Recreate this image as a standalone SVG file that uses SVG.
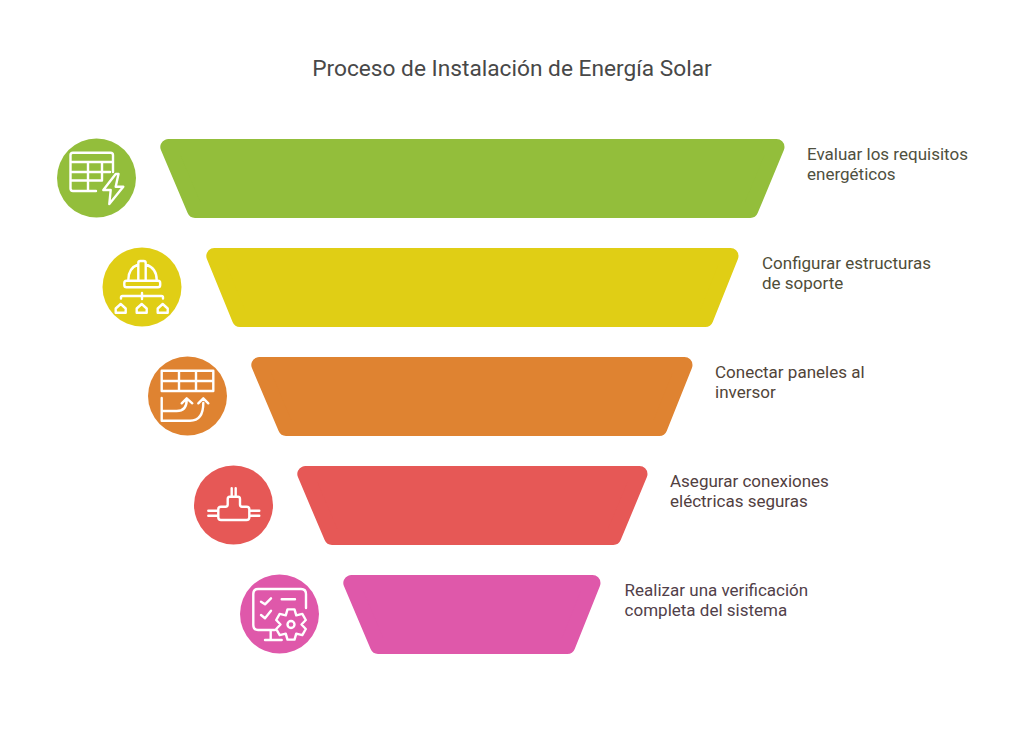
<svg xmlns="http://www.w3.org/2000/svg" width="1024" height="738" viewBox="0 0 1024 738">
<style>
text{font-family:Roboto,"Liberation Sans",sans-serif;font-size:17px}
.t{font-size:22.7px;fill:#484848}
.i{fill:none;stroke:#fff;stroke-width:2.4;stroke-linecap:round;stroke-linejoin:round}
.s{stroke-linejoin:round;stroke-width:16}
</style>
<rect width="1024" height="738" fill="#fff"/>
<text class="t" x="512" y="76" text-anchor="middle">Proceso de Instalación de Energía Solar</text>
<g id="n1">
<path class="s" fill="#93BE3B" stroke="#93BE3B" d="M168.300 147H776.500L750.300 210H195Z"/>
<circle cx="96.500" cy="178" r="39.500" fill="#93BE3B"/>
<path class="i" d="M96 191H73Q70.500 191 70.500 188.500V155Q70.500 152.700 73 152.700H110.500Q113 152.700 113 155V172M70.500 162H113M70.500 172H110M70.500 180.500H102M88 162V191M102 162V180.500"/>
<path class="i" d="M115.700 174L103.300 190H110.700L109.300 204L123.300 186.700H115.700L118.500 174Z"/>
<text x="807" y="160" fill="#4f5040">Evaluar los requisitos</text>
<text x="807" y="180" fill="#4f5040">energéticos</text>
</g>
<g id="n2">
<path class="s" fill="#E0CE15" stroke="#E0CE15" d="M214.300 256H730.500L705.300 319H240Z"/>
<circle cx="142" cy="287" r="39.500" fill="#E0CE15"/>
<path class="i" d="M128.300 280Q128.300 268 138.300 264.500M145.700 264.500Q156.700 268 156.700 280M126.500 280.700H158Q160.200 280.700 160.200 283V285Q160.200 287.300 158 287.300H126.500Q124.300 287.300 124.300 285V283Q124.300 280.700 126.500 280.700ZM138.300 280V263Q138.300 261 140.300 261H143.700Q145.700 261 145.700 263V280"/>
<path class="i" d="M142 293V299M121 298.500V297.500Q121 296 122.500 296H161.500Q163 296 163 297.500V298.500"/>
<path class="i" d="M115.700 308.500L120.700 304L125.700 308.500V312.700H115.700ZM136.700 308.500L141.700 304L146.700 308.500V312.700H136.700ZM157.700 308.500L162.700 304L167.700 308.500V312.700H157.700Z"/>
<text x="762" y="269" fill="#4f4d38">Configurar estructuras</text>
<text x="762" y="289" fill="#4f4d38">de soporte</text>
</g>
<g id="n3">
<path class="s" fill="#DF8331" stroke="#DF8331" d="M259.300 365H684.500L659.300 428H286Z"/>
<circle cx="187.500" cy="396" r="39.500" fill="#DF8331"/>
<path class="i" d="M161.700 370.700H213.300V391H161.700ZM161.700 381H213.300M179 370.700V391M196 370.700V391"/>
<path class="i" d="M161.700 398V420.700H190Q203.300 420.700 203.300 403M198.300 403.300L203.300 398.300L208.300 403.300M161.700 411H176.700Q186.700 411 186.700 400M181.700 403.300L186.700 398.300L192.300 403.300"/>
<text x="715" y="378" fill="#514438">Conectar paneles al</text>
<text x="715" y="398" fill="#514438">inversor</text>
</g>
<g id="n4">
<path class="s" fill="#E65856" stroke="#E65856" d="M305.300 474H639.500L613.300 537H332Z"/>
<circle cx="233.500" cy="505" r="39.500" fill="#E65856"/>
<path class="i" d="M231.700 496.700V488.300M235.700 496.700V488.300M229.700 496.700H238Q240 496.700 240 499V504.500Q240 506.700 242 506.700H246.500Q249.300 506.700 249.300 509V517.500Q249.300 520 246.500 520H221Q218.300 520 218.300 517.500V509Q218.300 506.700 221 506.700H225.500Q227.700 506.700 227.700 504.500V499Q227.700 496.700 229.700 496.700ZM208.300 510.700H218.300M208.300 515.700H218.300M249.300 510.700H259.300M249.300 515.700H259.300"/>
<text x="670" y="487" fill="#52403f">Asegurar conexiones</text>
<text x="670" y="507" fill="#52403f">eléctricas seguras</text>
</g>
<g id="n5">
<path class="s" fill="#DF58AA" stroke="#DF58AA" d="M351.300 583H592.500L567.300 646H378Z"/>
<circle cx="279.500" cy="614" r="39.500" fill="#DF58AA"/>
<path class="i" d="M275 630H258Q253.300 630 253.300 625V594Q253.300 589 258 589H301Q306 589 306 594V608M270.700 630V640M265 640H281.700"/>
<path class="i" d="M261 601.700L265 604.300L271 598.300M261 615L265 618.300L271 610.700M281.700 599.300H295"/>
<path class="i" d="M287.500 609.400L294.500 609.400L296.250 615.400L302.300 613.900L305.800 620L301.500 624.500L305.800 629L302.300 635.100L296.250 633.600L294.500 639.600L287.500 639.600L285.750 633.600L279.700 635.100L276.200 629L280.500 624.500L276.200 620L279.700 613.900L285.750 615.400Z"/>
<circle class="i" cx="291" cy="624.500" r="3.500"/>
<text x="624.600" y="596" fill="#514049">Realizar una verificación</text>
<text x="624.600" y="616" fill="#514049">completa del sistema</text>
</g>
<g id="connectors"/>
</svg>
